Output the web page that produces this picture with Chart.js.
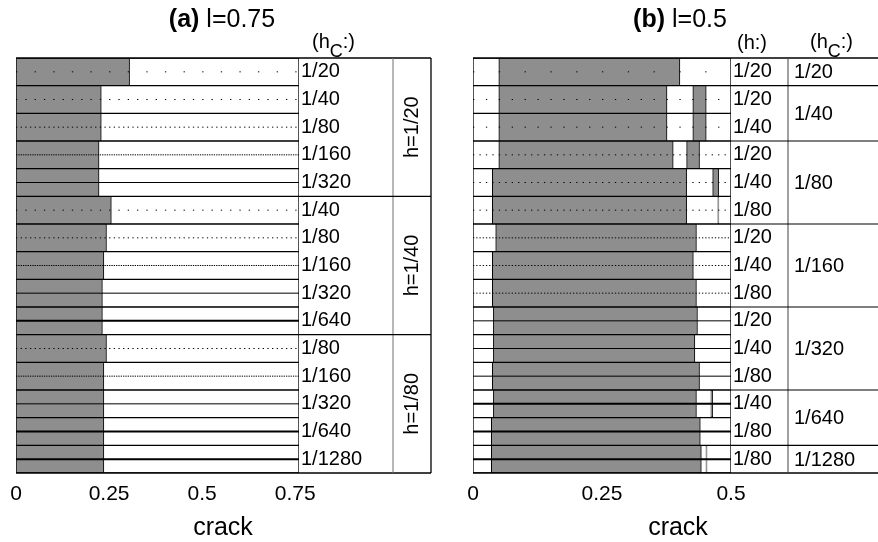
<!DOCTYPE html>
<html>
<head>
<meta charset="utf-8">
<script src="https://cdn.jsdelivr.net/npm/chart.js@4.4.0/dist/chart.umd.min.js"></script>
<style>
  body { margin: 0; background: #fff; }
  #wrap { position: relative; width: 878px; height: 542px; overflow: hidden; font-family: "Liberation Sans", Arial, sans-serif; color: #000; }
  canvas { position: absolute; top: 0; }
  .txt { position: absolute; white-space: nowrap; line-height: 1; }
  .c { transform: translate(-50%, -50%); }
  .l { transform: translateY(-50%); }
  .title { font-size: 25px; }
  .head { font-size: 20px; }
  .crack { font-size: 25px; }
  sub { font-size: 90%; vertical-align: -0.5em; line-height: 0; }
</style>
</head>
<body>
<div id="wrap">
  <canvas id="chartA" width="440" height="542" style="left:0"></canvas>
  <canvas id="chartB" width="438" height="542" style="left:440px"></canvas>
  <div class="txt c title" style="left:222px;top:18px"><b>(a)</b> l=0.75</div>
  <div class="txt l head" style="left:312px;top:41px">(h<sub>C</sub>:)</div>
  <div class="txt c title" style="left:680px;top:18px"><b>(b)</b> l=0.5</div>
  <div class="txt l head" style="left:737px;top:42px">(h:)</div>
  <div class="txt l head" style="left:810px;top:41px">(h<sub>C</sub>:)</div>
  <div class="txt c crack" style="left:223px;top:526px">crack</div>
  <div class="txt c crack" style="left:678px;top:526px">crack</div>
</div>
<script>
// (a) l=0.75 : rows grouped by h, labelled by hc
const aH   = ['1/20','1/20','1/20','1/20','1/20','1/40','1/40','1/40','1/40','1/40','1/80','1/80','1/80','1/80','1/80'];
const aHc  = ['1/20','1/40','1/80','1/160','1/320','1/40','1/80','1/160','1/320','1/640','1/80','1/160','1/320','1/640','1/1280'];
const aCrack = [0.305, 0.229, 0.229, 0.223, 0.223, 0.256, 0.243, 0.236, 0.232, 0.232, 0.243, 0.236, 0.236, 0.236, 0.236];
const aTicks = [0, 0.25, 0.5, 0.75];
const aMax = 0.76;

// (b) l=0.5 : rows grouped by hc, labelled by h
const bHc = ['1/20','1/40','1/40','1/80','1/80','1/80','1/160','1/160','1/160','1/320','1/320','1/320','1/640','1/640','1/1280'];
const bH  = ['1/20','1/20','1/40','1/20','1/40','1/80','1/20','1/40','1/80','1/20','1/40','1/80','1/40','1/80','1/80'];
const bStart  = [0.05, 0.05, 0.05, 0.05, 0.0375, 0.0375, 0.044, 0.0375, 0.0375, 0.0395, 0.0395, 0.0375, 0.0395, 0.0355, 0.0355];
const bEnd    = [0.401, 0.376, 0.376, 0.388, 0.414, 0.414, 0.433, 0.427, 0.433, 0.435, 0.430, 0.439, 0.433, 0.4405, 0.4425];
const bStart2 = [null, 0.426, 0.426, 0.414, 0.4645, 0.4745, null, null, null, null, null, null, 0.461, null, 0.4515];
const bEnd2   = [null, 0.452, 0.452, 0.439, 0.476, 0.4765, null, null, null, null, null, null, 0.4645, null, 0.4535];
const bTicks = [0, 0.25, 0.5];
const bMax = 0.5;

const GRAY = '#8e8e8e';
Chart.defaults.font.family = '"Liberation Sans", Arial, sans-serif';
Chart.defaults.color = '#000';

function runs(arr) {
  const out = [];
  arr.forEach((v, i) => {
    const last = out[out.length - 1];
    if (last && last.label === v) last.end = i;
    else out.push({label: v, start: i, end: i});
  });
  return out;
}

// pixel spacing of the hc mesh along the crack axis
function meshPx(chart, hc) {
  const s = chart.scales.x;
  if (!s || !chart.chartArea) return 10;
  return s.getPixelForValue(hc) - s.getPixelForValue(0);
}

function midLines(keys, hcs, xMax) {
  return keys.map((k, i) => {
    const hc = 1 / Number(hcs[i].split('/')[1]);
    return {
      type: 'line',
      data: [{x: 0, y: k}, {x: xMax, y: k}],
      borderColor: '#000',
      pointRadius: 0,
      order: 1,
      borderWidth: c => meshPx(c.chart, hc) < 1 ? 2 : 1,
      borderDash: c => {
        const p = meshPx(c.chart, hc);
        return p < 2 ? [] : [1.3, p - 1.3];
      }
    };
  });
}

const sideTable = {
  id: 'sideTable',
  afterDraw(chart, args, opts) {
    const {ctx, chartArea: ca, scales: {y}} = chart;
    const rowH = y.getPixelForValue(1) - y.getPixelForValue(0);
    const xDiv = ca.right + opts.labelW, xEnd = xDiv + opts.groupW;
    const seg = (x1, y1, x2, y2) => { ctx.beginPath(); ctx.moveTo(x1, y1); ctx.lineTo(x2, y2); ctx.stroke(); };
    ctx.save();
    ctx.lineWidth = 1.3;
    ctx.strokeStyle = '#000';
    seg(ca.left, ca.top, xEnd, ca.top);
    seg(ca.left, ca.bottom, xEnd, ca.bottom);
    seg(xEnd, ca.top, xEnd, ca.bottom);
    ctx.strokeStyle = opts.divColor;
    ctx.lineWidth = 1;
    seg(xDiv, ca.top, xDiv, ca.bottom);
    ctx.fillStyle = '#000';
    ctx.font = '20px "Liberation Sans", Arial, sans-serif';
    ctx.textBaseline = 'middle';
    runs(opts.groups).forEach((g, k) => {
      const top = y.getPixelForValue(g.start) - rowH / 2;
      const bot = y.getPixelForValue(g.end) + rowH / 2;
      if (k > 0) {
        ctx.strokeStyle = '#000';
        ctx.lineWidth = 1.2;
        seg(ca.right, top, xEnd, top);
      }
      const text = opts.prefix + g.label;
      if (opts.rotate) {
        ctx.save();
        ctx.translate((xDiv + xEnd) / 2, (top + bot) / 2);
        ctx.rotate(-Math.PI / 2);
        ctx.textAlign = 'center';
        ctx.fillText(text, 0, 0);
        ctx.restore();
      } else {
        ctx.textAlign = 'left';
        ctx.fillText(text, xDiv + 6, (top + bot) / 2 + 1);
      }
    });
    ctx.restore();
  }
};

function makeChart(id, cfg) {
  const keys = cfg.rowLabels.map((r, i) => cfg.groups[i] + '|' + r);
  const barBase = {
    type: 'bar', grouped: false, barPercentage: 1, categoryPercentage: 1,
    borderColor: '#000', borderWidth: 1, borderSkipped: false
  };
  const datasets = [
    ...midLines(keys, cfg.hc, cfg.xMax),
    ...cfg.gray.map(d => ({...barBase, data: d, backgroundColor: GRAY, order: 2})),
    {...barBase, data: keys.map(() => [0, cfg.xMax]), backgroundColor: '#fff', order: 3}
  ];
  return new Chart(document.getElementById(id), {
    type: 'bar',
    data: {labels: keys, datasets},
    plugins: [sideTable],
    options: {
      responsive: false,
      animation: false,
      events: [],
      indexAxis: 'y',
      layout: {padding: {left: cfg.padLeft, top: 58, right: 0, bottom: 0}},
      plugins: {
        legend: {display: false},
        tooltip: {enabled: false},
        sideTable: cfg.table
      },
      scales: {
        x: {
          type: 'linear', min: 0, max: cfg.xMax,
          grid: {display: false, drawTicks: false}, border: {display: false},
          afterBuildTicks: s => { s.ticks = cfg.ticks.map(v => ({value: v})); },
          afterFit: s => { s.height = 69; },
          ticks: {font: {size: 21}, padding: 9, maxRotation: 0, callback: v => String(v)}
        },
        y: {
          type: 'category', position: 'right', offset: true,
          grid: {display: false, drawTicks: false}, border: {display: false},
          afterFit: s => { s.width = cfg.axisW; },
          ticks: {
            font: {size: 20}, padding: 2, crossAlign: 'near', autoSkip: false,
            callback: function (v) { return this.getLabelForValue(v).split('|')[1]; }
          }
        }
      }
    }
  });
}

makeChart('chartA', {
  rowLabels: aHc, groups: aH, hc: aHc, xMax: aMax, ticks: aTicks,
  gray: [aCrack.map(v => [0, v])],
  padLeft: 16, axisW: 141,
  table: {labelW: 94, groupW: 38, divColor: '#707070', groups: aH, prefix: 'h=', rotate: true}
});

makeChart('chartB', {
  rowLabels: bH, groups: bHc, hc: bHc, xMax: bMax, ticks: bTicks,
  gray: [bStart.map((s, i) => [s, bEnd[i]]),
         bStart2.map((s, i) => s === null ? null : [s, bEnd2[i]])],
  padLeft: 33, axisW: 147,
  table: {labelW: 57, groupW: 200, divColor: '#404040', groups: bHc, prefix: '', rotate: false}
});
</script>
</body>
</html>
